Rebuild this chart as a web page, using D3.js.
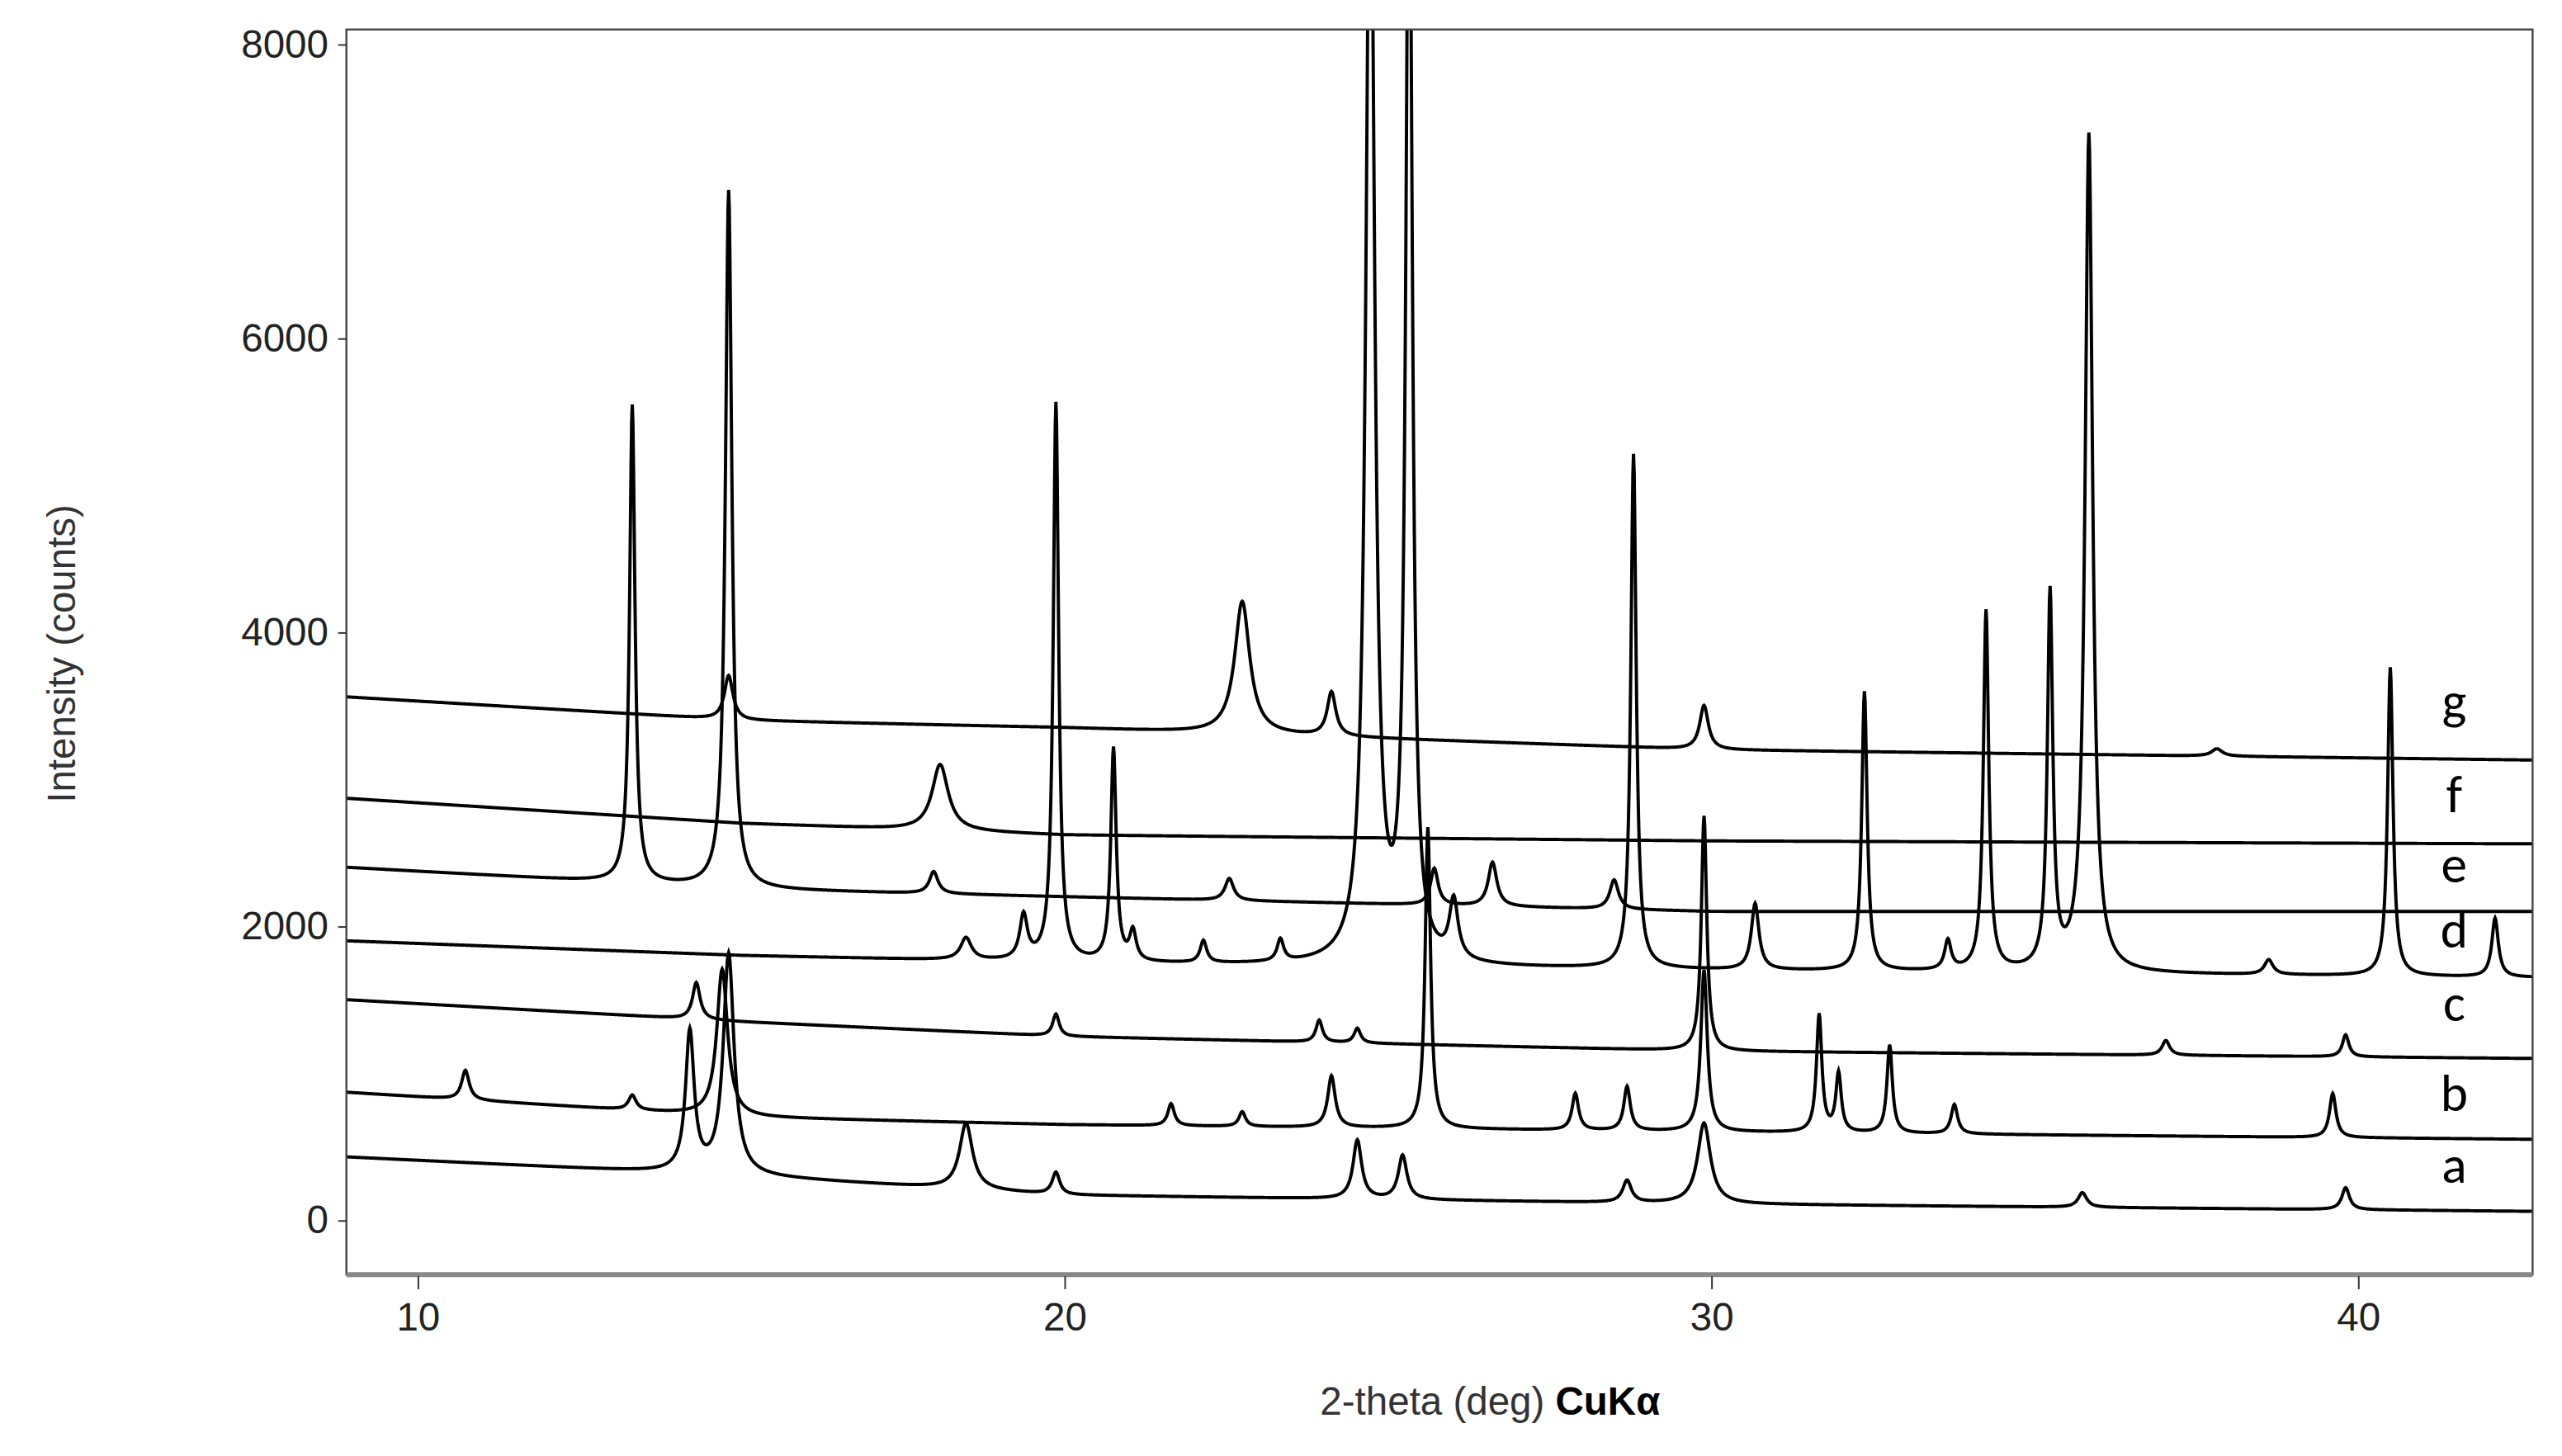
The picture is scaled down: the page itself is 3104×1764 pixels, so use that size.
<!DOCTYPE html>
<html><head><meta charset="utf-8">
<script src="https://cdn.jsdelivr.net/npm/d3@7"></script>
<style>body{margin:0;background:#fff}svg{display:block}</style>
</head><body>
<svg id="canvas" width="3104" height="1764" viewBox="0 0 1568 891"></svg>
<script>
// baselines read at these 2-theta positions
const baseX = [8.9, 15, 20, 30, 42.7]
const traces = [
  {name: "a", base: [430, 300, 170, 110, 60],
   peaks: [[14.21, 950, .08], [14.81, 1500, .1], [18.48, 450, .12], [19.87, 150, .07], [24.53, 400, .08], [25.23, 300, .08], [28.70, 150, .08], [29.89, 550, .12], [35.74, 100, .08], [39.81, 150, .07]]},
  {name: "b", base: [870, 700, 650, 600, 550],
   peaks: [[10.74, 200, .07], [13.32, 100, .07], [14.71, 1000, .1], [21.65, 150, .06], [22.75, 100, .06], [24.13, 350, .07], [25.62, 2050, .05], [27.90, 250, .06], [28.70, 300, .06], [29.89, 1100, .06], [31.67, 800, .05], [31.97, 400, .05], [32.76, 600, .05], [33.76, 200, .06], [39.61, 300, .06]]},
  {name: "c", base: [1500, 1350, 1250, 1150, 1100],
   peaks: [[14.31, 250, .07], [19.87, 150, .06], [23.94, 150, .06], [24.53, 100, .06], [29.89, 1600, .05], [37.03, 100, .07], [39.81, 150, .06]]},
  {name: "d", base: [1900, 1800, 1750, 1700, 1650],
   peaks: [[18.48, 150, .1], [19.37, 300, .07], [19.87, 3800, .05], [20.76, 1450, .05], [21.06, 200, .06], [22.15, 150, .06], [23.34, 150, .06], [24.73, 8000, .08], [25.33, 8000, .06], [26.02, 400, .08], [28.80, 3500, .05], [30.68, 450, .07], [32.37, 1900, .05], [33.66, 200, .06], [34.25, 2450, .05], [35.24, 2550, .05], [35.84, 5700, .07], [38.62, 100, .08], [40.50, 2100, .05], [42.12, 400, .06]]},
  {name: "e", base: [2400, 2250, 2200, 2100, 2100],
   peaks: [[13.32, 3250, .05], [14.81, 4750, .06], [17.98, 150, .08], [22.55, 150, .08], [25.72, 250, .07], [26.62, 300, .08], [28.50, 200, .08]]},
  {name: "f", base: [2870, 2700, 2620, 2580, 2560],
   peaks: [[18.08, 450, .15]]},
  {name: "g", base: [3560, 3400, 3350, 3200, 3130],
   peaks: [[14.81, 300, .08], [22.75, 900, .14], [24.13, 300, .08], [29.89, 300, .08], [37.82, 50, .1]]}
]
const xTicks = [10, 20, 30, 40]
const yTicks = [0, 2000, 4000, 6000, 8000]
const labelY = {a: 724, b: 680, c: 625, d: 580, e: 540, f: 497, g: 440}

const L = 212, R = 1550, T = 18, B = 780
const x = d3.scaleLinear().domain([8.9, 42.7]).range([L, R])
const y = d3.scaleLinear().domain([-370, 8100]).range([B, T])
const svg = d3.select("#canvas")
const font = "Liberation Sans, Arial, sans-serif"

svg.append("clipPath").attr("id", "clip").append("rect")
  .attr("x", L).attr("y", T).attr("width", R - L).attr("height", B - T)

const grid = d3.range(8.9, 42.71, 0.01)
const line = d3.line().x(d => x(d[0])).y(d => y(d[1]))
traces.forEach(tr => {
  const bl = d3.scaleLinear().domain(baseX).range(tr.base)
  const pts = grid.map(t => {
    let v = bl(t)
    tr.peaks.forEach(([p, h, w]) => { v += h / (1 + ((t - p) / w) ** 2) })
    return [t, v]
  })
  svg.append("path").attr("clip-path", "url(#clip)").attr("d", line(pts))
    .attr("fill", "none").attr("stroke", "#000").attr("stroke-width", 2)
  svg.append("text").attr("x", 1502).attr("y", labelY[tr.name]).attr("text-anchor", "middle")
    .attr("font-family", "Calibri, Carlito, Liberation Sans, sans-serif").attr("font-size", 32).text(tr.name)
})

// frame
svg.append("rect").attr("x", L).attr("y", T).attr("width", R - L).attr("height", B - T)
  .attr("fill", "none").attr("stroke", "#444").attr("stroke-width", 1.2)
svg.append("line").attr("x1", L).attr("x2", R).attr("y1", B).attr("y2", B)
  .attr("stroke", "#888").attr("stroke-width", 3)

const xa = svg.append("g").attr("transform", `translate(0,${B + 1})`)
  .call(d3.axisBottom(x).tickValues(xTicks).tickSize(8).tickPadding(8))
const ya = svg.append("g").attr("transform", `translate(${L},0)`)
  .call(d3.axisLeft(y).tickValues(yTicks).tickFormat(d3.format("d")).tickSize(5).tickPadding(6))
;[xa, ya].forEach(a => {
  a.select(".domain").remove()
  a.selectAll("text").attr("font-family", font).attr("font-size", 24).attr("fill", "#222")
  a.selectAll("line").attr("stroke", "#333")
})

const xl = svg.append("text").attr("x", 912).attr("y", 866).attr("text-anchor", "middle")
  .attr("font-family", font).attr("font-size", 24).attr("fill", "#333")
xl.append("tspan").text("2-theta (deg)  ")
xl.append("tspan").attr("font-weight", "bold").attr("fill", "#000").text("CuKα")
svg.append("text").attr("transform", "translate(46,400) rotate(-90)").attr("text-anchor", "middle")
  .attr("font-family", font).attr("font-size", 24).attr("fill", "#333").text("Intensity (counts)")
</script>
</body></html>
